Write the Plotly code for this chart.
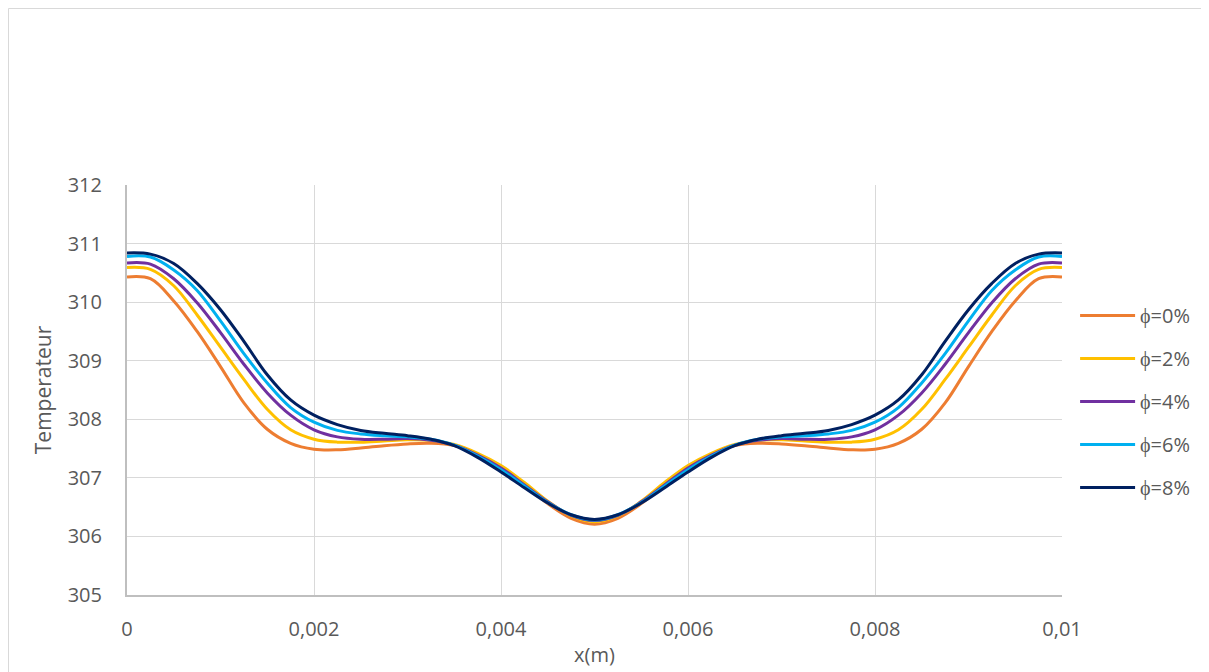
import plotly.graph_objects as go

# x positions (m) (chart is symmetric about x=0.005)
x_vals = [0, 0.00025, 0.0005, 0.00075, 0.001, 0.00125, 0.0015, 0.00175, 0.002, 0.00225,
          0.0025, 0.00275, 0.003, 0.00325, 0.0035, 0.00375, 0.004, 0.00425, 0.0045, 0.00475,
          0.005,
          0.00525, 0.0055, 0.00575, 0.006, 0.00625, 0.0065, 0.00675, 0.007, 0.00725, 0.0075,
          0.00775, 0.008, 0.00825, 0.0085, 0.00875, 0.009, 0.00925, 0.0095, 0.00975, 0.01]

phi0 = [310.43, 310.40, 310.02, 309.50, 308.90, 308.28, 307.83, 307.59, 307.49, 307.48,
        307.51, 307.55, 307.58, 307.59, 307.55, 307.40, 307.19, 306.89, 306.56, 306.31,
        306.21,
        306.31, 306.56, 306.89, 307.19, 307.40, 307.55, 307.59, 307.58, 307.55, 307.51,
        307.48, 307.49, 307.59, 307.83, 308.28, 308.90, 309.50, 310.02, 310.40, 310.43]

phi2 = [310.59, 310.56, 310.28, 309.78, 309.23, 308.68, 308.17, 307.82, 307.66, 307.61,
        307.61, 307.63, 307.65, 307.64, 307.57, 307.42, 307.21, 306.92, 306.60, 306.35,
        306.25,
        306.35, 306.60, 306.92, 307.21, 307.42, 307.57, 307.64, 307.65, 307.63, 307.61,
        307.61, 307.66, 307.82, 308.17, 308.68, 309.23, 309.78, 310.28, 310.56, 310.59]

phi4 = [310.67, 310.65, 310.40, 309.99, 309.48, 308.94, 308.45, 308.07, 307.82, 307.70,
        307.66, 307.66, 307.67, 307.64, 307.56, 307.39, 307.17, 306.88, 306.59, 306.36,
        306.27,
        306.36, 306.59, 306.88, 307.17, 307.39, 307.56, 307.64, 307.67, 307.66, 307.66,
        307.70, 307.82, 308.07, 308.45, 308.94, 309.48, 309.99, 310.40, 310.65, 310.67]

phi6 = [310.78, 310.77, 310.55, 310.20, 309.68, 309.12, 308.62, 308.20, 307.95, 307.81,
        307.75, 307.72, 307.70, 307.66, 307.56, 307.37, 307.14, 306.86, 306.58, 306.37,
        306.28,
        306.37, 306.58, 306.86, 307.14, 307.37, 307.56, 307.66, 307.70, 307.72, 307.75,
        307.81, 307.95, 308.20, 308.62, 309.12, 309.68, 310.20, 310.55, 310.77, 310.78]

phi8 = [310.84, 310.82, 310.66, 310.32, 309.87, 309.33, 308.76, 308.33, 308.07, 307.91,
        307.81, 307.76, 307.72, 307.66, 307.55, 307.35, 307.10, 306.83, 306.57, 306.37,
        306.29,
        306.37, 306.57, 306.83, 307.10, 307.35, 307.55, 307.66, 307.72, 307.76, 307.81,
        307.91, 308.07, 308.33, 308.76, 309.33, 309.87, 310.32, 310.66, 310.82, 310.84]

series_names = ["ϕ=0%", "ϕ=2%", "ϕ=4%", "ϕ=6%", "ϕ=8%"]
series_values = [phi0, phi2, phi4, phi6, phi8]
series_colors = ["#ED7D31", "#FFC000", "#7030A0", "#00B0F0", "#002060"]

x_tickvals = [0, 0.002, 0.004, 0.006, 0.008, 0.01]
x_ticktext = ["0", "0,002", "0,004", "0,006", "0,008", "0,01"]
y_tickvals = [305, 306, 307, 308, 309, 310, 311, 312]

FONT = "Open Sans"
TXT = "#595959"

fig = go.Figure()
for i, (name, vals, col) in enumerate(zip(series_names, series_values, series_colors)):
    fig.add_trace(go.Scatter(
        x=x_vals, y=vals, name=name, mode="lines",
        line=dict(color=col, width=3, shape="spline", smoothing=1.0),
        legendgroup=f"g{i}",
    ))

# page has an 8px body margin, so the figure is sized/offset to compensate
fig.update_layout(
    width=1201, height=664,
    margin=dict(l=119, r=147, t=177, b=77),
    paper_bgcolor="white", plot_bgcolor="white",
    font=dict(family=FONT, size=20, color=TXT),
    showlegend=True,
    legend=dict(
        x=1.014, xanchor="left", y=0.472, yanchor="middle",
        font=dict(family=FONT, size=20, color=TXT),
        itemwidth=55, tracegroupgap=14, bgcolor="rgba(0,0,0,0)",
    ),
    xaxis=dict(
        range=[0, 0.01], tickvals=x_tickvals, ticktext=x_ticktext,
        showgrid=True, gridcolor="#d9d9d9", gridwidth=1,
        showline=True, linecolor="#bfbfbf", linewidth=2,
        zeroline=False, ticks="", ticklabelstandoff=15, automargin=False,
        tickfont=dict(family=FONT, size=20, color=TXT),
        title=dict(text="x(m)", font=dict(family=FONT, size=20, color=TXT), standoff=7),
    ),
    yaxis=dict(
        range=[305, 312], tickvals=y_tickvals,
        showgrid=True, gridcolor="#d9d9d9", gridwidth=1,
        showline=True, linecolor="#bfbfbf", linewidth=2,
        zeroline=False, ticks="", ticklabelstandoff=19, automargin=False,
        tickfont=dict(family=FONT, size=20, color=TXT),
        title=dict(text="Temperateur", font=dict(family=FONT, size=21, color=TXT), standoff=10),
    ),
    shapes=[dict(
        type="rect", xref="paper", yref="paper",
        x0=(8.5 - 127) / 935, x1=(1206 - 127) / 935,
        y0=-0.3, y1=(595 - 8.5) / 410,
        line=dict(color="#d9d9d9", width=1), fillcolor="rgba(0,0,0,0)", layer="below",
    )],
)

fig.write_html("out.html")
